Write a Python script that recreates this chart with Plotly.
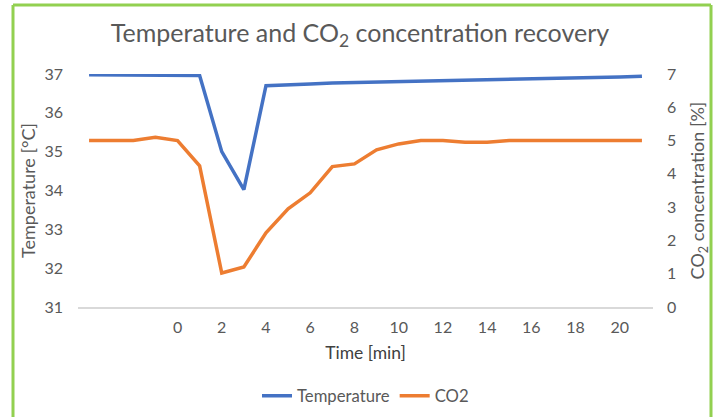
import plotly.graph_objects as go

time_min = [-4, -3, -2, -1, 0, 1, 2, 3, 4, 5, 6, 7, 8, 9, 10, 11, 12, 13, 14, 15, 16, 17, 18, 19, 20, 21]
temperature = [36.98, 36.98, 36.97, 36.98, 36.97, 36.96, 35.0, 34.02, 36.7, 36.71, 36.74, 36.77, 36.78, 36.79,
               36.8, 36.81, 36.83, 36.84, 36.86, 36.87, 36.88, 36.89, 36.9, 36.91, 36.92, 36.94]
co2 = [5.0, 5.0, 5.0, 5.1, 5.0, 4.24, 1.02, 1.2, 2.23, 2.95, 3.43, 4.22, 4.3, 4.72, 4.9, 5.0, 5.0, 4.95,
       4.95, 5.0, 5.0, 5.0, 5.0, 5.0, 5.0, 5.0]
x_ticks = [0, 2, 4, 6, 8, 10, 12, 14, 16, 18, 20]
temp_ticks = [31, 32, 33, 34, 35, 36, 37]
co2_ticks = [0, 1, 2, 3, 4, 5, 6, 7]

FONT = "Lato, Open Sans, sans-serif"
GRAY = "#595959"

W, H = 720, 417
ML, MR, MT, MB = 78, 67, 74, 110

fig = go.Figure()
fig.add_trace(go.Scatter(x=time_min, y=temperature, name="Temperature", mode="lines",
                         line=dict(color="#4472C4", width=3.5)))
fig.add_trace(go.Scatter(x=time_min, y=co2, name="CO2", mode="lines", yaxis="y2",
                         line=dict(color="#ED7D31", width=3.5)))

fig.update_layout(
    width=W, height=H,
    paper_bgcolor="white", plot_bgcolor="white",
    margin=dict(l=ML, r=MR, t=MT, b=MB, autoexpand=False),
    font=dict(family=FONT, color=GRAY, size=16),
    title=dict(text="Temperature and CO<sub>2</sub> concentration recovery",
               x=0.5, xanchor="center", y=1 - 33 / H, yanchor="middle",
               font=dict(size=25, color=GRAY, family=FONT)),
    xaxis=dict(range=[-4.5, 21.5], tickvals=x_ticks, showgrid=False, zeroline=False,
               showline=True, linecolor="#D9D9D9", linewidth=1.5, ticks="",
               tickfont=dict(size=16, color=GRAY), ticklabelstandoff=5,
               title=dict(text="Time [min]", font=dict(size=17.5, color="#404040"), standoff=12)),
    yaxis=dict(range=[31, 37], tickvals=temp_ticks, showgrid=False, zeroline=False,
               ticks="", tickfont=dict(size=16, color=GRAY), ticklabelstandoff=14,
               title=dict(text="Temperature [°C]", font=dict(size=18, color=GRAY), standoff=4)),
    yaxis2=dict(range=[0, 7], tickvals=co2_ticks, overlaying="y", side="right",
                showgrid=False, zeroline=False, ticks="", tickfont=dict(size=16, color=GRAY),
                ticklabelstandoff=13,
                title=dict(text="CO<sub>2</sub> concentration [%]", font=dict(size=18, color=GRAY),
                           standoff=16)),
    legend=dict(orientation="h", x=0.5, xanchor="center", y=-(396 - (H - MB)) / (H - MT - MB),
                yanchor="middle", font=dict(size=16.7, color=GRAY)),
)

pw = W - ML - MR
ph = H - MT - MB


def px_x(p):
    return (p - ML) / pw


def px_y(p):
    return (H - MB - p) / ph


green = dict(color="#92D050", width=3)
fig.add_shape(type="line", xref="paper", yref="paper", x0=px_x(13), x1=px_x(13), y0=px_y(5), y1=px_y(420), line=green)
fig.add_shape(type="line", xref="paper", yref="paper", x0=px_x(711), x1=px_x(711), y0=px_y(5), y1=px_y(420), line=green)
fig.add_shape(type="line", xref="paper", yref="paper", x0=px_x(13), x1=px_x(711), y0=px_y(5), y1=px_y(5), line=green)

fig.write_html("out.html", config={"displayModeBar": False},
               post_script="document.body.style.margin='0px';document.body.style.overflow='hidden';")
